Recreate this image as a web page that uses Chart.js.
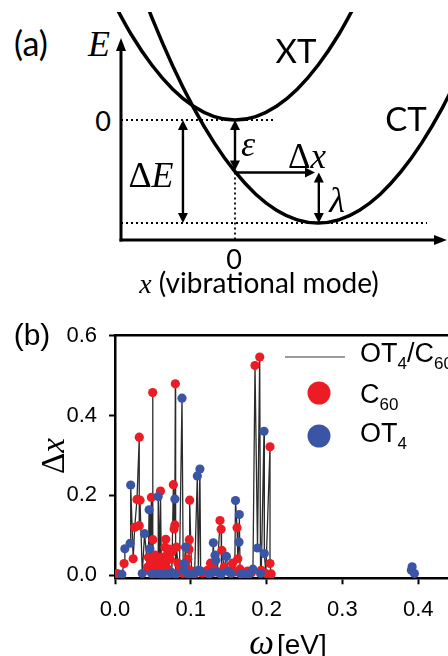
<!DOCTYPE html>
<html><head><meta charset="utf-8">
<script src="https://cdn.jsdelivr.net/npm/chart.js@4.4.0/dist/chart.umd.min.js"></script>
<style>
html,body{margin:0;padding:0;background:#fff;}
body{width:448px;height:656px;overflow:hidden;position:relative;}
canvas{position:absolute;}
.t{position:absolute;white-space:nowrap;line-height:1;transform:translate(-50%,-50%);color:#000;}
.l{transform:translate(0,-50%);}
.sans{font-family:"Lato",sans-serif;}
.arial{font-family:"Liberation Sans",Arial,sans-serif;}
.serif{font-family:"Liberation Serif","Times New Roman",serif;}
.i{font-style:italic;}
.sub{font-size:17px;position:relative;top:7px;}
</style></head><body>
<canvas id="ca" width="336" height="237" style="left:114px;top:12px"></canvas>
<canvas id="cb" width="470" height="346" style="left:0;top:310px"></canvas>

<div class="t sans" style="left:31px;top:43px;font-size:34px">(a)</div>
<div class="t serif i" style="left:99px;top:44px;font-size:36px">E</div>
<div class="t sans" style="left:296px;top:50px;font-size:33px">XT</div>
<div class="t sans" style="left:406px;top:118px;font-size:33px">CT</div>
<div class="t sans" style="left:103px;top:120px;font-size:27px">0</div>
<div class="t sans" style="left:234px;top:258px;font-size:27px">0</div>
<div class="t sans" style="left:259px;top:283px;font-size:28px"><span class="serif i">x</span> (vibrational mode)</div>
<div class="t serif" style="left:151px;top:175px;font-size:36px">&Delta;<span class="i">E</span></div>
<div class="t serif i" style="left:248px;top:144px;font-size:36px">&epsilon;</div>
<div class="t serif" style="left:307px;top:156px;font-size:35px">&Delta;<span class="i">x</span></div>
<div class="t serif i" style="left:337px;top:200px;font-size:36px">&lambda;</div>

<div class="t arial" style="left:32px;top:335px;font-size:30px">(b)</div>
<div class="t serif" style="left:53px;top:456px;font-size:33px;transform:translate(-50%,-50%) rotate(-90deg)">&Delta;<span class="i">x</span></div>
<div class="t" style="left:288px;top:642px"><span class="serif i" style="font-size:35px">&omega;</span><span class="arial" style="font-size:28px;margin-left:3px">[eV]</span></div>
<div class="t l arial" style="left:360px;top:353px;font-size:27px">OT<span class="sub">4</span>/C<span class="sub">60</span></div>
<div class="t l arial" style="left:360px;top:394px;font-size:27px">C<span class="sub">60</span></div>
<div class="t l arial" style="left:360px;top:433px;font-size:27px">OT<span class="sub">4</span></div>

<script>
// ---------- Panel (a): schematic potential curves ----------
const xtX = [-1.5,-1.25,-1,-0.75,-0.5,-0.25,0,0.25,0.5,0.75,1,1.25,1.5];
const xtE = [1.195,0.830,0.531,0.299,0.133,0.033,0,0.033,0.133,0.299,0.531,0.830,1.195];
const ctX = [-1.25,-1,-0.75,-0.5,-0.25,0,0.25,0.5,0.75,1,1.25,1.5,1.75,2,2.25,2.5,2.75];
const ctE = [1.521,0.992,0.525,0.1205,-0.222,-0.502,-0.720,-0.8755,-0.969,-1,-0.969,-0.8755,-0.720,-0.502,-0.222,0.1205,0.525];
// schematic guide lines [x1,E1,x2,E2] in the same units
const axisOrigin = [-1.3735,-1.165];
const axisEnds = [2.554, 0.796];
const dottedLines = [[-1.3735,0,0.458,0],[-1.3735,-1,2.313,-1],[0,-0.51,0,-1.165]];
const arrows = [
  {from:[0,0], to:[0,-0.49], both:true},
  {from:[-0.627,0], to:[-0.627,-1], both:true},
  {from:[0.02,-0.51], to:[0.964,-0.51], both:false},
  {from:[1.01,-0.51], to:[1.01,-1], both:true}
];

// ---------- Panel (b): Δx vs ω ----------
const c60Omega = [0.003,0.012,0.024,0.026,0.029,0.033,0.032,0.032,0.043,0.044,0.046,0.047,0.048,0.0497,0.050,0.051,0.053,0.055,0.057,0.059,0.060,0.061,0.063,0.065,0.066,0.067,0.069,0.070,0.072,0.073,0.075,0.077,0.078,0.079,0.0796,0.081,0.083,0.085,0.090,0.094,0.096,0.0976,0.098,0.0985,0.101,0.105,0.115,0.122,0.126,0.130,0.134,0.1385,0.140,0.141,0.144,0.150,0.155,0.158,0.161,0.162,0.165,0.170,0.175,0.180,0.1847,0.1909,0.193,0.199,0.2045,0.2045,0.206];
const c60Dx    = [0.004,0.029,0.041,0.120,0.190,0.188,0.346,0.124,0.020,0.045,0.010,0.035,0.195,0.458,0.089,0.025,0.050,0.012,0.038,0.022,0.211,0.045,0.008,0.030,0.070,0.090,0.052,0.015,0.065,0.040,0.058,0.227,0.116,0.126,0.480,0.070,0.030,0.010,0.004,0.020,0.040,0.064,0.089,0.188,0.010,0.003,0.005,0.012,0.030,0.018,0.008,0.137,0.115,0.062,0.020,0.010,0.030,0.008,0.119,0.041,0.015,0.005,0.010,0.006,0.526,0.547,0.012,0.004,0.322,0.029,0.003];
const ot4Omega = [0.009,0.013,0.020,0.0207,0.036,0.039,0.045,0.046,0.049,0.055,0.057,0.061,0.066,0.071,0.075,0.079,0.080,0.0884,0.091,0.0915,0.093,0.097,0.103,0.1086,0.110,0.112,0.113,0.124,0.128,0.1297,0.132,0.133,0.135,0.140,0.147,0.149,0.153,0.159,0.1636,0.164,0.166,0.172,0.177,0.182,0.188,0.192,0.1966,0.197,0.391,0.392,0.395];
const ot4Dx    = [0.002,0.066,0.080,0.226,0.004,0.104,0.164,0.066,0.003,0.004,0.197,0.002,0.001,0.003,0.006,0.191,0.002,0.444,0.012,0.029,0.070,0.002,0.004,0.249,0.012,0.266,0.010,0.002,0.006,0.081,0.050,0.037,0.008,0.002,0.047,0.010,0.004,0.187,0.083,0.152,0.002,0.004,0.003,0.015,0.068,0.004,0.361,0.054,0.012,0.021,0.004];
const omegaTicks = [0,0.1,0.2,0.3,0.4];
const dxTicks = [0,0.2,0.4,0.6];

const RED = '#ec1c24', BLUE = '#3b55a6';

function arrowHead(ctx, x, y, ang, len, half){
  ctx.beginPath();
  ctx.moveTo(x, y);
  ctx.lineTo(x - len*Math.cos(ang) + half*Math.sin(ang), y - len*Math.sin(ang) - half*Math.cos(ang));
  ctx.lineTo(x - len*Math.cos(ang) - half*Math.sin(ang), y - len*Math.sin(ang) + half*Math.cos(ang));
  ctx.closePath(); ctx.fill();
}
function drawArrow(ctx, x1,y1,x2,y2,both,lw,len,half){
  const ang = Math.atan2(y2-y1,x2-x1);
  const sx = both ? x1 + len*0.8*Math.cos(ang) : x1, sy = both ? y1 + len*0.8*Math.sin(ang) : y1;
  const ex = x2 - len*0.8*Math.cos(ang), ey = y2 - len*0.8*Math.sin(ang);
  ctx.lineWidth = lw; ctx.beginPath(); ctx.moveTo(sx,sy); ctx.lineTo(ex,ey); ctx.stroke();
  arrowHead(ctx,x2,y2,ang,len,half);
  if(both) arrowHead(ctx,x1,y1,ang+Math.PI,len,half);
}

const schematic = {
  id:'schematic',
  beforeDatasetsDraw(chart){
    const {ctx, scales:{x,y}} = chart;
    const X=v=>x.getPixelForValue(v), Y=v=>y.getPixelForValue(v);
    ctx.save();
    ctx.strokeStyle='#000'; ctx.fillStyle='#000';
    ctx.setLineDash([2,3]); ctx.lineWidth=1.8;
    dottedLines.forEach(([a,b,c,d])=>{ctx.beginPath();ctx.moveTo(X(a),Y(b));ctx.lineTo(X(c),Y(d));ctx.stroke();});
    ctx.setLineDash([]);
    const ox=X(axisOrigin[0]), oy=Y(axisOrigin[1]);
    drawArrow(ctx, ox, oy+1.5, ox, Y(axisEnds[1]), false, 3, 13, 5);
    drawArrow(ctx, ox-1.5, oy, X(axisEnds[0]), oy, false, 3, 13, 5);
    ctx.restore();
  },
  afterDatasetsDraw(chart){
    const {ctx, scales:{x,y}} = chart;
    const X=v=>x.getPixelForValue(v), Y=v=>y.getPixelForValue(v);
    ctx.save();
    ctx.strokeStyle='#000'; ctx.fillStyle='#000';
    arrows.forEach(a=>drawArrow(ctx, X(a.from[0]),Y(a.from[1]),X(a.to[0]),Y(a.to[1]),a.both,2.4,10,5));
    ctx.restore();
  }
};

new Chart(document.getElementById('ca'), {
  type:'scatter',
  data:{datasets:[
    {label:'XT', data:xtX.map((v,i)=>({x:v,y:xtE[i]})), showLine:true, borderColor:'#000', borderWidth:3.5, pointRadius:0, cubicInterpolationMode:'monotone'},
    {label:'CT', data:ctX.map((v,i)=>({x:v,y:ctE[i]})), showLine:true, borderColor:'#000', borderWidth:3.5, pointRadius:0, cubicInterpolationMode:'monotone'}
  ]},
  options:{
    responsive:false, devicePixelRatio:1, animation:false, events:[],
    layout:{padding:0},
    plugins:{legend:{display:false}, tooltip:{enabled:false}},
    scales:{
      x:{type:'linear', display:false, min:-1.4578, max:2.5904},
      y:{type:'linear', display:false, min:-1.2524, max:1.0485}
    }
  },
  plugins:[schematic]
});

// merged spectrum line (all modes sorted by frequency)
const spectrum = c60Omega.map((w,i)=>({x:w,y:c60Dx[i]}))
  .concat(ot4Omega.map((w,i)=>({x:w,y:ot4Dx[i]})))
  .sort((a,b)=>a.x-b.x);
const lineData = [];
spectrum.forEach((p,i)=>{
  if(i>0 && p.x-spectrum[i-1].x>0.05) lineData.push({x:(p.x+spectrum[i-1].x)/2, y:null});
  lineData.push(p);
});

const frameAndLegend = {
  id:'frameAndLegend',
  afterDraw(chart){
    const {ctx, chartArea:a} = chart;
    ctx.save();
    ctx.strokeStyle='#000'; ctx.lineWidth=2.5;
    ctx.beginPath(); ctx.moveTo(a.left-1.25,a.top); ctx.lineTo(a.right,a.top); ctx.stroke();
    // legend symbols
    ctx.strokeStyle='#7a7a7a'; ctx.lineWidth=1.5;
    ctx.beginPath(); ctx.moveTo(285,47); ctx.lineTo(345,47); ctx.stroke();
    ctx.fillStyle=RED; ctx.beginPath(); ctx.arc(319,83,11.5,0,Math.PI*2); ctx.fill();
    ctx.fillStyle=BLUE; ctx.beginPath(); ctx.arc(319,126,11.5,0,Math.PI*2); ctx.fill();
    ctx.restore();
  }
};

const tickFont = {family:'"Liberation Sans", Arial, sans-serif', size:22};
new Chart(document.getElementById('cb'), {
  type:'scatter',
  data:{datasets:[
    {label:'OT4/C60', data:lineData, showLine:true, spanGaps:false, borderColor:'rgba(20,20,20,0.9)', borderWidth:1.3, pointRadius:0, order:3},
    {label:'C60', data:c60Omega.map((w,i)=>({x:w,y:c60Dx[i]})), backgroundColor:RED, borderWidth:0, pointRadius:4.6, order:2},
    {label:'OT4', data:ot4Omega.map((w,i)=>({x:w,y:ot4Dx[i]})), backgroundColor:BLUE, borderWidth:0, pointRadius:4.6, order:1}
  ]},
  options:{
    responsive:false, devicePixelRatio:1, animation:false, events:[],
    layout:{padding:{left:0, top:23.3, right:13.9, bottom:0}},
    plugins:{legend:{display:false}, tooltip:{enabled:false}},
    scales:{
      x:{type:'linear', min:0, max:0.45,
        afterBuildTicks:s=>{s.ticks=omegaTicks.map(v=>({value:v}));},
        afterFit:s=>{s.height=77.7;},
        grid:{drawOnChartArea:false, drawTicks:true, tickLength:6, tickWidth:2, tickColor:'#000'},
        border:{display:true, color:'#000', width:2.5},
        ticks:{color:'#000', font:tickFont, padding:12, maxRotation:0, autoSkip:false, callback:v=>Number(v).toFixed(1)}
      },
      y:{type:'linear', min:-0.008, max:0.602,
        afterBuildTicks:s=>{s.ticks=dxTicks.map(v=>({value:v}));},
        afterFit:s=>{s.width=115;},
        grid:{drawOnChartArea:false, drawTicks:true, tickLength:6, tickWidth:2, tickColor:'#000'},
        border:{display:true, color:'#000', width:2.5},
        ticks:{color:'#000', font:tickFont, padding:12, autoSkip:false, callback:v=>Number(v).toFixed(1)}
      }
    }
  },
  plugins:[frameAndLegend]
});
</script>
</body></html>
